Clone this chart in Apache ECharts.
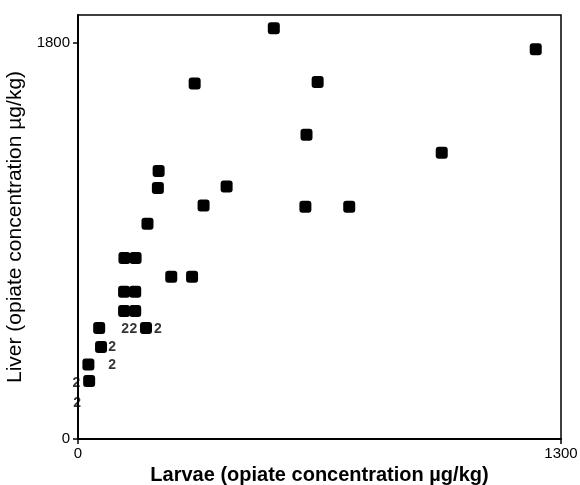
<!DOCTYPE html>
<html>
<head>
<meta charset="utf-8">
<script src="https://cdn.jsdelivr.net/npm/echarts@6/dist/echarts.min.js"></script>
<style>html,body{margin:0;padding:0;background:#fff}#c{width:580px;height:485px}</style>
</head>
<body>
<div id="c"></div>
<script>
// Larvae vs liver opiate concentration (µg/kg)
const larvae = [527, 1232, 314, 645, 615, 979, 217, 215, 400, 338, 612, 730, 187,
  125, 155, 251, 307, 124, 154, 124, 154, 57, 183, 62, 28, 30];
const liver = [1865, 1770, 1614, 1621, 1381, 1300, 1217, 1139, 1146, 1060, 1055, 1055, 977,
  822, 822, 737, 737, 668, 668, 581, 581, 504, 504, 418, 338, 263];
// "2" annotations (two coincident samples)
const countLarvae = [-4, -2, 92, 92, 127, 149, 215];
const countLiver = [253, 165, 335, 416, 500, 500, 500];
const countText = ['2', '2', '2', '2', '2', '2', '2'];
const xTicks = [0, 1300];
const yTicks = [0, 1800];
const xTitle = 'Larvae (opiate concentration \u00b5g/kg)';
const yTitle = 'Liver (opiate concentration \u00b5g/kg)';

const chart = echarts.init(document.getElementById('c'), null, {renderer: 'canvas'});
const font = '"Liberation Sans", Arial, sans-serif';
chart.setOption({
  backgroundColor: '#fff',
  animation: false,
  grid: {left: 78, right: 19, top: 15, bottom: 46, show: true, borderColor: '#000', borderWidth: 1.5,
    backgroundColor: 'transparent', outerBoundsMode: 'none', containLabel: false},
  xAxis: {
    type: 'value', min: 0, max: 1300,
    name: xTitle, nameLocation: 'middle', nameGap: 20,
    nameTextStyle: {fontFamily: font, fontSize: 20, fontWeight: 'bold', color: '#000'},
    axisLine: {show: true, lineStyle: {color: '#000', width: 2}},
    axisTick: {show: true, length: 5, lineStyle: {color: '#000', width: 1.5}, customValues: xTicks},
    axisLabel: {fontFamily: font, fontSize: 15, color: '#000', margin: 7, customValues: xTicks, formatter: v => String(v)},
    splitLine: {show: false}
  },
  yAxis: {
    type: 'value', min: 0, max: 1925,
    name: yTitle, nameLocation: 'middle', nameGap: 47, nameRotate: 90,
    nameTextStyle: {fontFamily: font, fontSize: 21, color: '#000'},
    axisLine: {show: true, lineStyle: {color: '#000', width: 2}},
    axisTick: {show: true, length: 5, lineStyle: {color: '#000', width: 1.5}, customValues: yTicks},
    axisLabel: {fontFamily: font, fontSize: 15, color: '#000', margin: 8, customValues: yTicks, formatter: v => String(v)},
    splitLine: {show: false}
  },
  series: [
    {
      type: 'scatter',
      symbol: 'roundRect',
      symbolSize: 12,
      itemStyle: {color: '#000', opacity: 1},
      data: larvae.map((x, i) => [x, liver[i]])
    },
    {
      type: 'scatter',
      symbolSize: 0,
      clip: false,
      itemStyle: {color: 'transparent'},
      label: {show: true, position: 'inside', fontFamily: font, fontSize: 14, fontWeight: 'bold', color: '#000',
        formatter: p => countText[p.dataIndex]},
      data: countLarvae.map((x, i) => [x, countLiver[i]])
    }
  ]
});
</script>
</body>
</html>
